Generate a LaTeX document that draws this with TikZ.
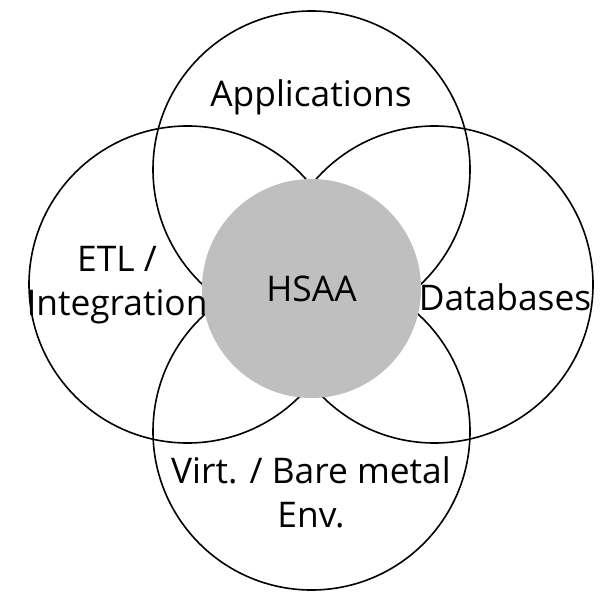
\documentclass[tikz,border=0pt]{standalone}
\usepackage{fontspec}
\setmainfont{Open Sans}
\definecolor{hubgray}{RGB}{191,191,191}
\tikzset{
  ring/.style={circle, draw, line width=1.2pt, minimum size=237.75pt, inner sep=0pt},
  hub/.style={circle, fill=hubgray, minimum size=164.25pt, inner sep=0pt,
    font=\fontsize{26.5}{33}\selectfont},
  ringtext/.style={align=center, font=\fontsize{26.5}{33}\selectfont, inner sep=0pt}
}

\begin{document}
\begin{tikzpicture}[x=0.75pt,y=-0.75pt]
  \useasboundingbox (0,0) rectangle (605,591);
  % the four areas round the hub
  \node[ring] (apps) at (311.5,169.5) {};
  \node[ring] (etl)  at (187.5,284.5) {};
  \node[ring] (db)   at (434.5,284.5) {};
  \node[ring] (env)  at (311.5,431.5) {};
  % hub on top
  \node[hub] (hsaa) at (311.5,288.5) {HSAA};
  % area names
  \node[ringtext, anchor=base] (appstext) at (311,107) {Applications};
  \node[ringtext, anchor=base] (etltext)  at (117,315) {ETL /\\Integration};
  \node[ringtext, anchor=base] (dbtext)   at (505,310) {Databases};
  \node[ringtext, anchor=base] (envtext)  at (311,527) {Virt. / Bare metal\\Env.};
\end{tikzpicture}
\end{document}
